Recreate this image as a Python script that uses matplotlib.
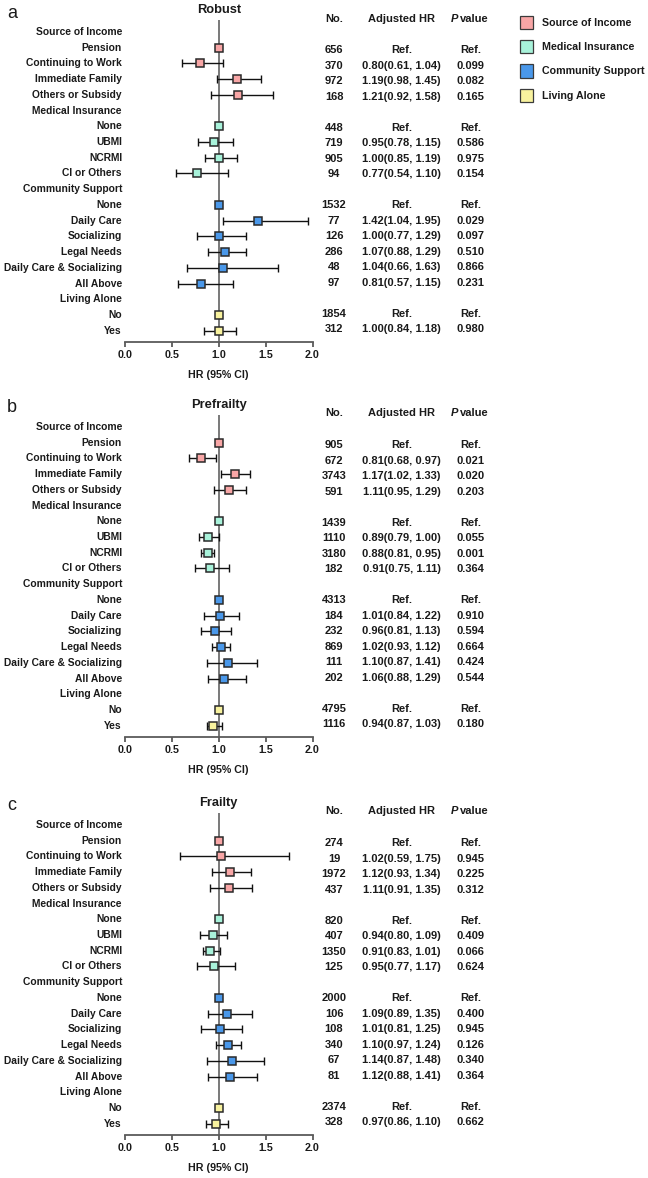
import numpy as np
import matplotlib
matplotlib.use('Agg')
import matplotlib.pyplot as plt
from matplotlib.transforms import blended_transform_factory
from matplotlib.patches import Rectangle

plt.rcParams['font.family'] = ['Liberation Sans', 'DejaVu Sans']
plt.rcParams['font.weight'] = 'bold'

# ---------------- data ----------------
row_labels = ["Source of Income", "Pension", "Continuing to Work", "Immediate Family",
              "Others or Subsidy", "Medical Insurance", "None", "UBMI", "NCRMI",
              "CI or Others", "Community Support", "None", "Daily Care", "Socializing",
              "Legal Needs", "Daily Care & Socializing", "All Above", "Living Alone",
              "No", "Yes"]
group_names = ["Source of Income", "Medical Insurance", "Community Support", "Living Alone"]
group_rows = [[1, 2, 3, 4], [6, 7, 8, 9], [11, 12, 13, 14, 15, 16], [18, 19]]
group_colors = ["#F8A6A6", "#A8F2DA", "#4A98EA", "#F8F29E"]

panel_titles = ["Robust", "Prefrailty", "Frailty"]
panel_letters = ["a", "b", "c"]

nan = np.nan
# Robust
n_robust = [656, 370, 972, 168, 448, 719, 905, 94, 1532, 77, 126, 286, 48, 97, 1854, 312]
hr_robust = [1.00, 0.80, 1.19, 1.21, 1.00, 0.95, 1.00, 0.77, 1.00, 1.42, 1.00, 1.07, 1.04, 0.81, 1.00, 1.00]
lo_robust = [nan, 0.61, 0.98, 0.92, nan, 0.78, 0.85, 0.54, nan, 1.04, 0.77, 0.88, 0.66, 0.57, nan, 0.84]
hi_robust = [nan, 1.04, 1.45, 1.58, nan, 1.15, 1.19, 1.10, nan, 1.95, 1.29, 1.29, 1.63, 1.15, nan, 1.18]
p_robust = ["Ref.", "0.099", "0.082", "0.165", "Ref.", "0.586", "0.975", "0.154",
            "Ref.", "0.029", "0.097", "0.510", "0.866", "0.231", "Ref.", "0.980"]
# Prefrailty
n_pre = [905, 672, 3743, 591, 1439, 1110, 3180, 182, 4313, 184, 232, 869, 111, 202, 4795, 1116]
hr_pre = [1.00, 0.81, 1.17, 1.11, 1.00, 0.89, 0.88, 0.91, 1.00, 1.01, 0.96, 1.02, 1.10, 1.06, 1.00, 0.94]
lo_pre = [nan, 0.68, 1.02, 0.95, nan, 0.79, 0.81, 0.75, nan, 0.84, 0.81, 0.93, 0.87, 0.88, nan, 0.87]
hi_pre = [nan, 0.97, 1.33, 1.29, nan, 1.00, 0.95, 1.11, nan, 1.22, 1.13, 1.12, 1.41, 1.29, nan, 1.03]
p_pre = ["Ref.", "0.021", "0.020", "0.203", "Ref.", "0.055", "0.001", "0.364",
         "Ref.", "0.910", "0.594", "0.664", "0.424", "0.544", "Ref.", "0.180"]
# Frailty
n_fra = [274, 19, 1972, 437, 820, 407, 1350, 125, 2000, 106, 108, 340, 67, 81, 2374, 328]
hr_fra = [1.00, 1.02, 1.12, 1.11, 1.00, 0.94, 0.91, 0.95, 1.00, 1.09, 1.01, 1.10, 1.14, 1.12, 1.00, 0.97]
lo_fra = [nan, 0.59, 0.93, 0.91, nan, 0.80, 0.83, 0.77, nan, 0.89, 0.81, 0.97, 0.87, 0.88, nan, 0.86]
hi_fra = [nan, 1.75, 1.34, 1.35, nan, 1.09, 1.01, 1.17, nan, 1.35, 1.25, 1.24, 1.48, 1.41, nan, 1.10]
p_fra = ["Ref.", "0.945", "0.225", "0.312", "Ref.", "0.409", "0.066", "0.624",
         "Ref.", "0.400", "0.945", "0.126", "0.340", "0.364", "Ref.", "0.662"]

panels = [
    (n_robust, hr_robust, lo_robust, hi_robust, p_robust),
    (n_pre, hr_pre, lo_pre, hi_pre, p_pre),
    (n_fra, hr_fra, lo_fra, hi_fra, p_fra),
]
xticks = [0.0, 0.5, 1.0, 1.5, 2.0]

# ---------------- layout ----------------
W, H = 648, 1178
ROW = 15.72
panel_y0 = [32, 427, 825]
data_rows = [r for g in group_rows for r in g]

fig = plt.figure(figsize=(W / 100, H / 100), dpi=100)
fig.patch.set_facecolor('white')

TXT = '#1a1a1a'
for pi, (nn, hr, lo, hi, pv) in enumerate(panels):
    y0 = panel_y0[pi]
    ax = fig.add_axes([125 / W, 1 - (y0 + 310) / H, 187.5 / W, 322 / H])
    ax.set_xlim(0, 2)
    ax.set_ylim(310 / ROW, -12 / ROW)
    for s in ['top', 'right', 'left']:
        ax.spines[s].set_visible(False)
    ax.spines['bottom'].set_color('#5a5a5a')
    ax.spines['bottom'].set_linewidth(1.3)
    ax.set_yticks([])
    ax.set_xticks(xticks)
    ax.set_xticklabels([f"{t:.1f}" for t in xticks], fontsize=7.7, fontweight='bold', color=TXT)
    ax.tick_params(axis='x', direction='out', length=3.8, width=1.3, color='#5a5a5a', pad=2.3)
    ax.axvline(1.0, color='#6e6e6e', lw=1.3, zorder=1)

    hr_arr = np.array(hr)
    lo_arr = np.array(lo)
    hi_arr = np.array(hi)
    k = 0
    for gi, rows in enumerate(group_rows):
        idx = np.arange(k, k + len(rows))
        k += len(rows)
        rows_arr = np.array(rows, dtype=float)
        m = ~np.isnan(lo_arr[idx])
        if m.any():
            ax.errorbar(hr_arr[idx][m], rows_arr[m],
                        xerr=[hr_arr[idx][m] - lo_arr[idx][m], hi_arr[idx][m] - hr_arr[idx][m]],
                        fmt='none', ecolor='#111111', elinewidth=1.0, capsize=2.7,
                        capthick=1.0, zorder=2)
        ax.plot(hr_arr[idx], rows_arr, 's', ms=6.2, mfc=group_colors[gi],
                mec='#2a2a2a', mew=1.1, zorder=3, clip_on=False)

    tr = blended_transform_factory(fig.transFigure, ax.transData)
    for r, lab in enumerate(row_labels):
        ax.text(122 / W, r, lab, transform=tr, ha='right', va='center',
                fontsize=7.4, fontweight='bold', color=TXT)

    # title and letter
    ax.text(1.0, -22 / ROW, panel_titles[pi], ha='center', va='center',
            fontsize=9.3, fontweight='bold', color=TXT)
    ax.text(7 / W, -19 / ROW, panel_letters[pi], transform=tr, ha='left', va='center',
            fontsize=13, fontweight='normal', color=TXT)
    ax.text(1.0, (310 + 33) / ROW, "HR (95% CI)", ha='center', va='center',
            fontsize=7.7, fontweight='bold', color=TXT, clip_on=False)

    # table headers
    hy = -13.5 / ROW
    ax.text(334 / W, hy, "No.", transform=tr, ha='center', va='center', fontsize=8, fontweight='bold', color=TXT)
    ax.text(401.5 / W, hy, "Adjusted HR", transform=tr, ha='center', va='center', fontsize=8, fontweight='bold', color=TXT)
    ax.text(451 / W, hy, "P", transform=tr, ha='left', va='center', fontsize=8,
            fontweight='bold', style='italic', color=TXT)
    ax.text(459.5 / W, hy, "value", transform=tr, ha='left', va='center', fontsize=8, fontweight='bold', color=TXT)

    for j, r in enumerate(data_rows):
        ty = (18 + (r - 1) * 15.52) / ROW
        ax.text(334 / W, ty, str(nn[j]), transform=tr, ha='center', va='center',
                fontsize=8, fontweight='bold', color=TXT)
        if np.isnan(lo[j]):
            s = "Ref."
        else:
            s = f"{hr[j]:.2f}({lo[j]:.2f}, {hi[j]:.2f})"
        ax.text(401.5 / W, ty, s, transform=tr, ha='center', va='center',
                fontsize=8, fontweight='bold', color=TXT)
        ax.text(470.5 / W, ty, pv[j], transform=tr, ha='center', va='center',
                fontsize=8, fontweight='bold', color=TXT)

# legend
leg_y = [22.7, 46.7, 71.0, 95.7]
for gi, name in enumerate(group_names):
    yc = leg_y[gi]
    fig.add_artist(Rectangle((520 / W, 1 - (yc + 6.5) / H), 13 / W, 13 / H,
                             transform=fig.transFigure, facecolor=group_colors[gi],
                             edgecolor='#3a3a3a', lw=0.9))
    fig.text(542 / W, 1 - yc / H, name, ha='left', va='center', fontsize=7.7,
             fontweight='bold', color=TXT)

fig.savefig('out.png', dpi=100, facecolor='white')
